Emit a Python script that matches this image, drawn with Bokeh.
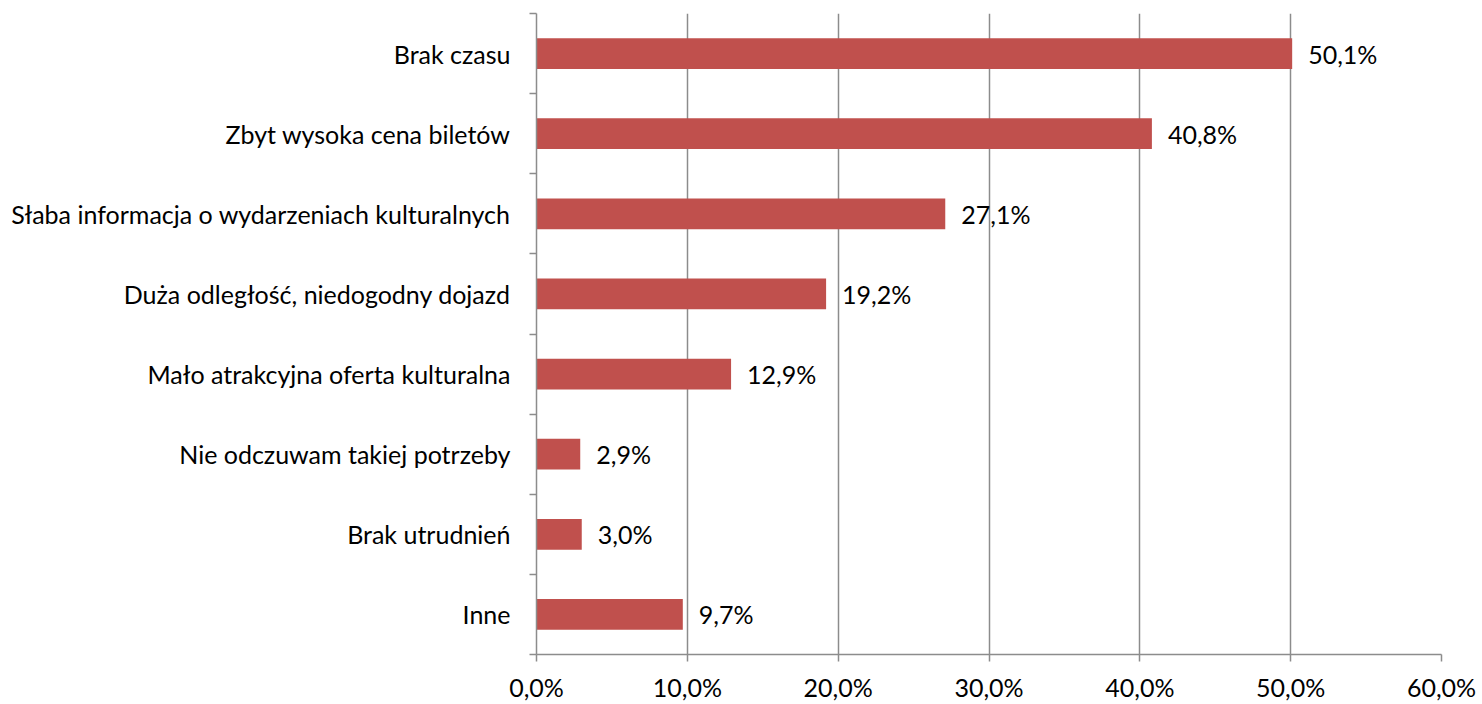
from bokeh.plotting import figure
from bokeh.models import ColumnDataSource, FixedTicker, CustomJSTickFormatter, Range1d
from bokeh.core.properties import value
from bokeh.embed import file_html
from bokeh.resources import INLINE

categories = ["Brak czasu", "Zbyt wysoka cena biletów", "Słaba informacja o wydarzeniach kulturalnych",
              "Duża odległość, niedogodny dojazd", "Mało atrakcyjna oferta kulturalna",
              "Nie odczuwam takiej potrzeby", "Brak utrudnień", "Inne"]
values = [50.1, 40.8, 27.1, 19.2, 12.9, 2.9, 3.0, 9.7]
x_ticks = [0, 10, 20, 30, 40, 50, 60]

n = len(categories)
ypos = [n - i - 0.5 for i in range(n)]
labels = [f"{v:.1f}".replace(".", ",") + "%" for v in values]
src = ColumnDataSource(dict(y=ypos, v=values, lab=labels))

FONT = "Lato"
FS = "25px"
GRID = "#8C8C8C"

p = figure(width=1480, height=704, output_backend="svg", toolbar_location=None,
           x_range=Range1d(0, 60), y_range=Range1d(0, n),
           min_border_left=536, min_border_right=39, min_border_top=13, min_border_bottom=47)
p.outline_line_color = None
p.background_fill_color = "white"

p.hbar(y="y", right="v", left=0, height=0.385, source=src, color="#C0504D", line_color=None)
p.text(x="v", y="y", text="lab", source=src, x_offset=16, text_align="left", text_baseline="middle",
       text_font=value(FONT), text_font_size=FS, text_color="black")

# x axis
p.xaxis.ticker = FixedTicker(ticks=x_ticks)
p.xaxis.formatter = CustomJSTickFormatter(code="return tick.toFixed(1).replace('.', ',') + '%';")
p.xaxis.axis_line_color = GRID
p.xaxis.axis_line_width = 1.5
p.xaxis.major_tick_line_color = GRID
p.xaxis.major_tick_line_width = 1.5
p.xaxis.major_tick_out = 7
p.xaxis.major_tick_in = 0
p.xaxis.minor_tick_line_color = None
p.xaxis.major_label_standoff = 10
p.xaxis.major_label_text_font = FONT
p.xaxis.major_label_text_font_size = FS
p.xaxis.major_label_text_color = "black"

# y axis: labels at band centres, ticks at band boundaries
p.yaxis.ticker = FixedTicker(ticks=ypos, minor_ticks=list(range(n + 1)))
p.yaxis.major_label_overrides = {y: c for y, c in zip(ypos, categories)}
p.yaxis.major_tick_out = 0
p.yaxis.major_tick_in = 0
p.yaxis.major_tick_line_color = None
p.yaxis.minor_tick_out = 7
p.yaxis.minor_tick_in = 0
p.yaxis.minor_tick_line_color = GRID
p.yaxis.minor_tick_line_width = 1.5
p.yaxis.axis_line_color = GRID
p.yaxis.axis_line_width = 1.5
p.yaxis.major_label_standoff = 19
p.yaxis.major_label_text_font = FONT
p.yaxis.major_label_text_font_size = FS
p.yaxis.major_label_text_color = "black"

p.xgrid.grid_line_color = GRID
p.xgrid.grid_line_width = 1.5
p.ygrid.grid_line_color = None

open("out.html", "w").write(file_html(p, INLINE))
